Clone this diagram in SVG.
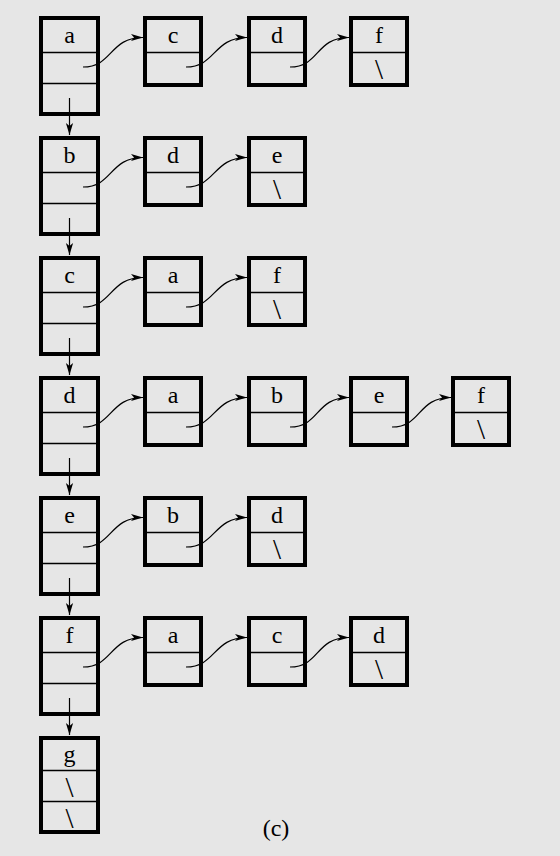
<svg xmlns="http://www.w3.org/2000/svg" width="560" height="856" viewBox="0 0 560 856">
<style>
.box{fill:none;stroke:#000;stroke-width:4}
.div{stroke:#000;stroke-width:1.3}
.t{font-family:"Liberation Serif","Times New Roman",serif;font-size:24px;text-anchor:middle;fill:#000}
.nil{font-family:"Liberation Serif","Times New Roman",serif;font-size:29px;text-anchor:middle;fill:#000}
.c{fill:none;stroke:#000;stroke-width:1.2}
</style>
<defs>
<marker id="ah" markerUnits="userSpaceOnUse" markerWidth="16" markerHeight="10" viewBox="-13 -5 14 10" refX="0" refY="0" orient="auto">
<path d="M0,0 L-12,-3.6 L-9,0 L-12,3.6 Z" fill="#000"/>
</marker>
</defs>
<rect width="560" height="856" fill="#e6e6e6"/>

<!-- Row a (y0=16) -->
<g id="va"><rect class="box" x="41" y="18" width="57" height="96"/><line class="div" x1="41" y1="52.5" x2="98" y2="52.5"/><line class="div" x1="41" y1="83.5" x2="98" y2="83.5"/><text class="t" x="69.5" y="42.5">a</text></g>
<g id="a1"><rect class="box" x="145" y="18" width="56" height="67"/><line class="div" x1="145" y1="52.5" x2="201" y2="52.5"/><text class="t" x="173" y="42.5">c</text></g>
<g id="a2"><rect class="box" x="249" y="18" width="56" height="67"/><line class="div" x1="249" y1="52.5" x2="305" y2="52.5"/><text class="t" x="277" y="42.5">d</text></g>
<g id="a3"><rect class="box" x="351" y="18" width="56" height="67"/><line class="div" x1="351" y1="52.5" x2="407" y2="52.5"/><text class="t" x="379" y="42.5">f</text><text class="nil" x="379" y="79">\</text></g>

<!-- Row b (y0=136) -->
<g id="vb"><rect class="box" x="41" y="138" width="57" height="96"/><line class="div" x1="41" y1="172.5" x2="98" y2="172.5"/><line class="div" x1="41" y1="203.5" x2="98" y2="203.5"/><text class="t" x="69.5" y="162.5">b</text></g>
<g id="b1"><rect class="box" x="145" y="138" width="56" height="67"/><line class="div" x1="145" y1="172.5" x2="201" y2="172.5"/><text class="t" x="173" y="162.5">d</text></g>
<g id="b2"><rect class="box" x="249" y="138" width="56" height="67"/><line class="div" x1="249" y1="172.5" x2="305" y2="172.5"/><text class="t" x="277" y="162.5">e</text><text class="nil" x="277" y="199">\</text></g>

<!-- Row c (y0=256) -->
<g id="vc"><rect class="box" x="41" y="258" width="57" height="96"/><line class="div" x1="41" y1="292.5" x2="98" y2="292.5"/><line class="div" x1="41" y1="323.5" x2="98" y2="323.5"/><text class="t" x="69.5" y="282.5">c</text></g>
<g id="c1"><rect class="box" x="145" y="258" width="56" height="67"/><line class="div" x1="145" y1="292.5" x2="201" y2="292.5"/><text class="t" x="173" y="282.5">a</text></g>
<g id="c2"><rect class="box" x="249" y="258" width="56" height="67"/><line class="div" x1="249" y1="292.5" x2="305" y2="292.5"/><text class="t" x="277" y="282.5">f</text><text class="nil" x="277" y="319">\</text></g>

<!-- Row d (y0=376) -->
<g id="vd"><rect class="box" x="41" y="378" width="57" height="96"/><line class="div" x1="41" y1="412.5" x2="98" y2="412.5"/><line class="div" x1="41" y1="443.5" x2="98" y2="443.5"/><text class="t" x="69.5" y="402.5">d</text></g>
<g id="d1"><rect class="box" x="145" y="378" width="56" height="67"/><line class="div" x1="145" y1="412.5" x2="201" y2="412.5"/><text class="t" x="173" y="402.5">a</text></g>
<g id="d2"><rect class="box" x="249" y="378" width="56" height="67"/><line class="div" x1="249" y1="412.5" x2="305" y2="412.5"/><text class="t" x="277" y="402.5">b</text></g>
<g id="d3"><rect class="box" x="351" y="378" width="56" height="67"/><line class="div" x1="351" y1="412.5" x2="407" y2="412.5"/><text class="t" x="379" y="402.5">e</text></g>
<g id="d4"><rect class="box" x="453" y="378" width="56" height="67"/><line class="div" x1="453" y1="412.5" x2="509" y2="412.5"/><text class="t" x="481" y="402.5">f</text><text class="nil" x="481" y="439">\</text></g>

<!-- Row e (y0=496) -->
<g id="ve"><rect class="box" x="41" y="498" width="57" height="96"/><line class="div" x1="41" y1="532.5" x2="98" y2="532.5"/><line class="div" x1="41" y1="563.5" x2="98" y2="563.5"/><text class="t" x="69.5" y="522.5">e</text></g>
<g id="e1"><rect class="box" x="145" y="498" width="56" height="67"/><line class="div" x1="145" y1="532.5" x2="201" y2="532.5"/><text class="t" x="173" y="522.5">b</text></g>
<g id="e2"><rect class="box" x="249" y="498" width="56" height="67"/><line class="div" x1="249" y1="532.5" x2="305" y2="532.5"/><text class="t" x="277" y="522.5">d</text><text class="nil" x="277" y="559">\</text></g>

<!-- Row f (y0=616) -->
<g id="vf"><rect class="box" x="41" y="618" width="57" height="96"/><line class="div" x1="41" y1="652.5" x2="98" y2="652.5"/><line class="div" x1="41" y1="683.5" x2="98" y2="683.5"/><text class="t" x="69.5" y="642.5">f</text></g>
<g id="f1"><rect class="box" x="145" y="618" width="56" height="67"/><line class="div" x1="145" y1="652.5" x2="201" y2="652.5"/><text class="t" x="173" y="642.5">a</text></g>
<g id="f2"><rect class="box" x="249" y="618" width="56" height="67"/><line class="div" x1="249" y1="652.5" x2="305" y2="652.5"/><text class="t" x="277" y="642.5">c</text></g>
<g id="f3"><rect class="box" x="351" y="618" width="56" height="67"/><line class="div" x1="351" y1="652.5" x2="407" y2="652.5"/><text class="t" x="379" y="642.5">d</text><text class="nil" x="379" y="679">\</text></g>

<!-- Row g (y0=736) -->
<g id="vg"><rect class="box" x="41" y="738" width="57" height="94"/><line class="div" x1="41" y1="770.5" x2="98" y2="770.5"/><line class="div" x1="41" y1="801.5" x2="98" y2="801.5"/><text class="t" x="69.5" y="761.5">g</text><text class="nil" x="69.5" y="797">\</text><text class="nil" x="69.5" y="828">\</text></g>

<g id="connectors">
<path class="c" marker-end="url(#ah)" d="M83,67 C113,67 109,37.5 143,37.5"/>
<path class="c" marker-end="url(#ah)" d="M186,67 C216,67 213,37.5 247,37.5"/>
<path class="c" marker-end="url(#ah)" d="M290,67 C320,67 315,37.5 349,37.5"/>
<path class="c" marker-end="url(#ah)" d="M83,187 C113,187 109,157.5 143,157.5"/>
<path class="c" marker-end="url(#ah)" d="M186,187 C216,187 213,157.5 247,157.5"/>
<path class="c" marker-end="url(#ah)" d="M83,307 C113,307 109,277.5 143,277.5"/>
<path class="c" marker-end="url(#ah)" d="M186,307 C216,307 213,277.5 247,277.5"/>
<path class="c" marker-end="url(#ah)" d="M83,427 C113,427 109,397.5 143,397.5"/>
<path class="c" marker-end="url(#ah)" d="M186,427 C216,427 213,397.5 247,397.5"/>
<path class="c" marker-end="url(#ah)" d="M290,427 C320,427 315,397.5 349,397.5"/>
<path class="c" marker-end="url(#ah)" d="M392,427 C422,427 417,397.5 451,397.5"/>
<path class="c" marker-end="url(#ah)" d="M83,547 C113,547 109,517.5 143,517.5"/>
<path class="c" marker-end="url(#ah)" d="M186,547 C216,547 213,517.5 247,517.5"/>
<path class="c" marker-end="url(#ah)" d="M83,667 C113,667 109,637.5 143,637.5"/>
<path class="c" marker-end="url(#ah)" d="M186,667 C216,667 213,637.5 247,637.5"/>
<path class="c" marker-end="url(#ah)" d="M290,667 C320,667 315,637.5 349,637.5"/>
<line class="c" marker-end="url(#ah)" x1="69.5" y1="98" x2="69.5" y2="135"/>
<line class="c" marker-end="url(#ah)" x1="69.5" y1="218" x2="69.5" y2="255"/>
<line class="c" marker-end="url(#ah)" x1="69.5" y1="338" x2="69.5" y2="375"/>
<line class="c" marker-end="url(#ah)" x1="69.5" y1="458" x2="69.5" y2="495"/>
<line class="c" marker-end="url(#ah)" x1="69.5" y1="578" x2="69.5" y2="615"/>
<line class="c" marker-end="url(#ah)" x1="69.5" y1="698" x2="69.5" y2="735"/>
</g>

<text class="t" x="276" y="836">(c)</text>
</svg>
